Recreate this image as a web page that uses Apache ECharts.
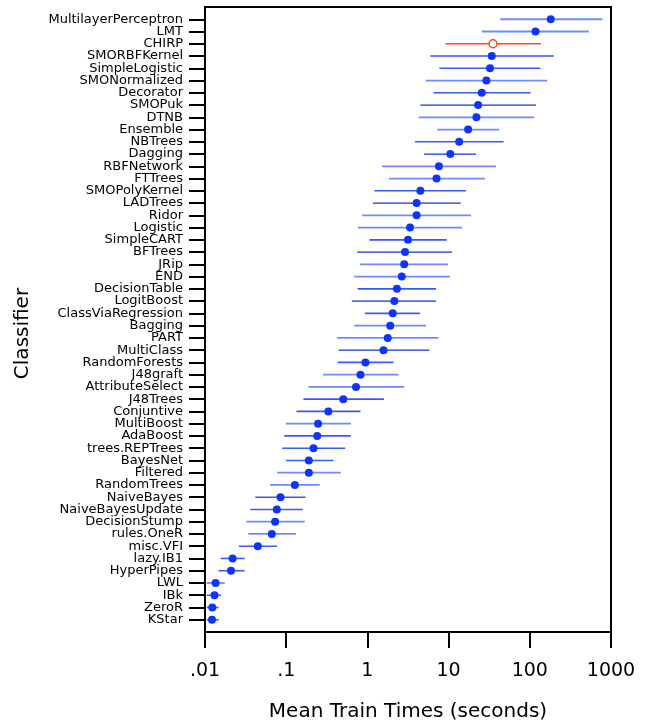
<!DOCTYPE html>
<html>
<head>
<meta charset="utf-8">
<script src="https://cdn.jsdelivr.net/npm/echarts@6/dist/echarts.min.js"></script>
<style>
html,body{margin:0;padding:0;background:#fff;}
#chart{width:649px;height:723px;}
</style>
</head>
<body>
<div id="chart"></div>
<script>
// ---- data (top to bottom) ----
var classifiers = ["MultilayerPerceptron","LMT","CHIRP","SMORBFKernel","SimpleLogistic","SMONormalized","Decorator","SMOPuk","DTNB","Ensemble","NBTrees","Dagging","RBFNetwork","FTTrees","SMOPolyKernel","LADTrees","Ridor","Logistic","SimpleCART","BFTrees","JRip","END","DecisionTable","LogitBoost","ClassViaRegression","Bagging","PART","MultiClass","RandomForests","J48graft","AttributeSelect","J48Trees","Conjuntive","MultiBoost","AdaBoost","trees.REPTrees","BayesNet","Filtered","RandomTrees","NaiveBayes","NaiveBayesUpdate","DecisionStump","rules.OneR","misc.VFI","lazy.IB1","HyperPipes","LWL","IBk","ZeroR","KStar"];
var meanTimes = [181,117.5,35.2,34,32.4,29.2,25.6,23.1,22,17.4,13.5,10.5,7.6,7.1,4.49,4.04,4.04,3.35,3.16,2.91,2.84,2.65,2.31,2.15,2.05,1.91,1.78,1.58,0.946,0.822,0.724,0.504,0.33,0.247,0.241,0.217,0.19,0.19,0.128,0.0851,0.0766,0.073,0.0665,0.0447,0.0219,0.0209,0.0135,0.0131,0.0123,0.0122];
var lowTimes = [43.4,25.6,9.16,5.95,7.69,5.22,6.52,4.49,4.28,7.24,3.85,4.99,1.51,1.84,1.22,1.17,0.863,0.767,1.06,0.75,0.813,0.689,0.758,0.643,0.935,0.689,0.422,0.443,0.432,0.284,0.188,0.163,0.134,0.099,0.0946,0.0891,0.099,0.0774,0.0634,0.0416,0.0361,0.0322,0.0342,0.0261,0.0156,0.0147,0.0105,0.0105,0.0105,0.0105];
var highTimes = [782,532,137,199,135,164,102,119,113,41.9,47.6,21.8,38.2,27.9,16.4,14.1,18.9,14.6,9.48,11.0,9.82,10.4,7.0,7.0,4.43,5.28,7.5,5.8,2.1,2.41,2.84,1.6,0.822,0.629,0.621,0.533,0.38,0.469,0.258,0.173,0.16,0.169,0.132,0.0774,0.0307,0.0307,0.0175,0.0158,0.0147,0.0147];
// tone group of each error bar: 0 light, 1 medium, 2 dark, 3 highlighted
var barTone = [0,0,3,1,1,0,1,2,0,0,1,2,0,0,1,2,0,0,1,2,0,0,1,2,1,0,0,2,1,0,0,1,1,0,1,1,1,0,0,1,1,0,0,1,1,1,0,1,1,1];
var highlighted = "CHIRP";
var xTickLabels = {"0.01":".01","0.1":".1","1":"1","10":"10","100":"100","1000":"1000"};

// ---- styles ----
var toneColors = ["#6f8bff","#3a5af5","#1230e0","#ff4a1c"];
var toneWidths = [1.8, 1.6, 1.3, 1.6];
var dotColor = "#1034ff";
var FONT = "DejaVu Sans";

// y axis: one empty padding slot above and below the classifier rows
var yCategories = [''].concat(classifiers).concat(['']);

var barData = [], dotData = [], hiData = [];
for (var i = 0; i < classifiers.length; i++) {
  barData.push([lowTimes[i], highTimes[i], i + 1, barTone[i]]);
  if (classifiers[i] === highlighted) hiData.push([meanTimes[i], i + 1]);
  else dotData.push([meanTimes[i], i + 1]);
}

var chart = echarts.init(document.getElementById('chart'), null, {renderer: 'canvas'});
chart.setOption({
  animation: false,
  backgroundColor: '#fff',
  grid: {
    left: 205, right: 38, top: 7, bottom: 91,
    show: true, borderColor: '#000', borderWidth: 2, backgroundColor: 'transparent',
    containLabel: false, outerBoundsMode: 'none'
  },
  xAxis: {
    type: 'log', logBase: 10, min: 0.01, max: 1000,
    name: 'Mean Train Times (seconds)',
    nameLocation: 'middle', nameGap: 70,
    nameTextStyle: {fontFamily: FONT, fontSize: 20, color: '#000'},
    axisLine: {show: true, onZero: false, lineStyle: {color: '#000', width: 2}},
    axisTick: {show: true, inside: false, length: 16, lineStyle: {color: '#000', width: 2}},
    minorTick: {show: false},
    splitLine: {show: false},
    axisLabel: {
      margin: 30, fontFamily: FONT, fontSize: 19, color: '#000',
      showMinLabel: true, showMaxLabel: true, hideOverlap: false,
      formatter: function (v) {
        var key = String(+v.toPrecision(6));
        return xTickLabels[key] !== undefined ? xTickLabels[key] : key;
      }
    }
  },
  yAxis: {
    type: 'category', data: yCategories, boundaryGap: false, inverse: true,
    name: 'Classifier', nameLocation: 'middle', nameGap: 172, nameRotate: 90,
    nameTextStyle: {fontFamily: FONT, fontSize: 20, color: '#000', padding: [0, 28, 0, 0]},
    axisLine: {show: true, onZero: false, lineStyle: {color: '#000', width: 2}},
    axisTick: {
      show: true, inside: false, length: 16,
      interval: function (idx, val) { return val !== ''; },
      lineStyle: {color: '#000', width: 2}
    },
    splitLine: {show: false},
    axisLabel: {
      interval: 0, margin: 22, fontFamily: FONT, fontSize: 13, color: '#000'
    }
  },
  series: [
    {
      type: 'custom',
      data: barData,
      encode: {x: [0, 1], y: 2},
      z: 2,
      renderItem: function (params, api) {
        var p1 = api.coord([api.value(0), api.value(2)]);
        var p2 = api.coord([api.value(1), api.value(2)]);
        var t = api.value(3);
        return {
          type: 'line',
          shape: {x1: p1[0], y1: p1[1], x2: p2[0], y2: p2[1]},
          style: {stroke: toneColors[t], lineWidth: toneWidths[t]}
        };
      }
    },
    {
      type: 'scatter',
      data: dotData,
      symbol: 'circle', symbolSize: 8,
      itemStyle: {color: dotColor, opacity: 1},
      z: 3
    },
    {
      type: 'scatter',
      data: hiData,
      symbol: 'circle', symbolSize: 8,
      itemStyle: {color: '#fff', borderColor: toneColors[3], borderWidth: 1.5, opacity: 1},
      z: 4
    }
  ]
});
</script>
</body>
</html>
